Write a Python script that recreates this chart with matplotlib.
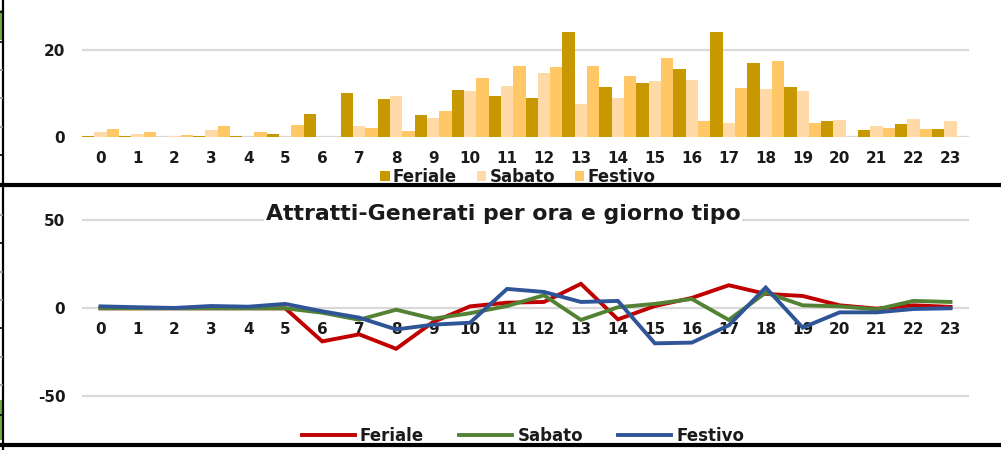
import matplotlib
matplotlib.use("Agg")
import matplotlib.pyplot as plt
from matplotlib.lines import Line2D
from matplotlib.patches import Patch, Rectangle

# Hours of the day
hours = list(range(24))
hour_labels = [str(h) for h in hours]

# Hourly trips by day type (bar chart)
feriale_bar = [0.3, 0.15, 0.0, 0.3, 0.3, 0.7, 5.2, 10.2, 8.7, 5.0, 10.7, 9.5,
               8.9, 24.0, 11.5, 12.5, 15.5, 24.0, 16.9, 11.5, 3.7, 1.6, 3.0, 1.9]
sabato_bar = [1.2, 0.8, 0.3, 1.7, 0.0, 0.0, 0.0, 2.6, 9.5, 4.4, 10.5, 11.6,
              14.7, 7.6, 9.0, 12.9, 13.1, 3.1, 11.1, 10.6, 4.0, 2.5, 4.2, 3.7]
festivo_bar = [1.9, 1.2, 0.5, 2.6, 1.1, 2.7, 0.0, 2.1, 1.4, 6.0, 13.5, 16.3,
               16.1, 16.2, 13.9, 18.2, 3.7, 11.3, 17.4, 3.1, 0.0, 2.1, 1.9, 0.0]

# Attracted minus generated, by hour and day type (line chart)
feriale_diff = [0.0, 0.0, 0.0, 0.0, 0.0, 0.0, -18.8, -14.8, -23.0, -7.8, 1.1, 3.2,
                3.6, 13.9, -6.3, 1.3, 5.9, 13.1, 8.2, 7.0, 1.7, -0.2, 1.7, 0.8]
sabato_diff = [0.0, 0.0, 0.0, 0.0, 0.0, 0.0, -2.5, -6.5, -0.8, -5.9, -2.8, 1.3,
               7.4, -6.6, 0.6, 2.5, 5.3, -6.6, 8.9, 1.7, 1.1, -0.6, 4.2, 3.6]
festivo_diff = [1.1, 0.6, 0.2, 1.3, 0.9, 2.5, -1.7, -5.3, -12.0, -9.3, -8.2, 11.0,
                9.3, 3.6, 4.2, -19.9, -19.5, -9.7, 11.8, -11.0, -2.3, -2.3, -0.4, 0.0]

series_names = ["Feriale", "Sabato", "Festivo"]
bar_colors = ["#C89800", "#FFDAA6", "#FFC766"]
line_colors = ["#C00000", "#548235", "#2F5597"]

title_text = "Attratti-Generati per ora e giorno tipo"

W, H = 1001, 450
fig = plt.figure(figsize=(W / 100, H / 100), dpi=100)
fig.patch.set_facecolor("white")


def px_axes(x0, y0, x1, y1):
    return fig.add_axes([x0 / W, 1 - y1 / H, (x1 - x0) / W, (y1 - y0) / H])


grid_col = "#D9D9D9"
text_col = "#1a1a1a"
tick_font = dict(family="DejaVu Sans", weight="bold", size=11, color=text_col)
legend_font = dict(family="DejaVu Sans", weight="bold", size=12)

# ---- Top: bar chart ----
ax1 = px_axes(82, 0, 969, 137)
bw = 1 / 3
for i, (vals, col, name) in enumerate(zip([feriale_bar, sabato_bar, festivo_bar],
                                           bar_colors, series_names)):
    ax1.bar([h + (i - 1) * bw for h in hours], vals, width=bw, color=col,
            label=name, zorder=3)
ax1.set_xlim(-0.5, 23.5)
ax1.set_ylim(0, 137 / 4.36)
ax1.set_yticks([0, 20])
ax1.set_yticklabels(["0", "20"], **tick_font)
ax1.set_xticks(hours)
ax1.set_xticklabels(hour_labels, **tick_font)
ax1.tick_params(axis="both", length=0)
ax1.tick_params(axis="x", pad=10)
ax1.tick_params(axis="y", pad=12)
ax1.yaxis.grid(True, color=grid_col, lw=1.6, zorder=0)
ax1.set_axisbelow(True)
for s in ax1.spines.values():
    s.set_visible(False)

handles1 = [Patch(facecolor=c, label=n) for c, n in zip(bar_colors, series_names)]
leg1 = fig.legend(handles=handles1, loc="center",
                  bbox_to_anchor=(518 / W, 1 - 177 / H),
                  ncol=3, frameon=False, handlelength=0.55, handleheight=0.55,
                  handletextpad=0.2, columnspacing=1.2, prop=legend_font)
for t in leg1.get_texts():
    t.set_color(text_col)

# ---- Bottom: line chart ----
ax2 = px_axes(82, 190, 969, 420)
for vals, col, name in zip([feriale_diff, sabato_diff, festivo_diff],
                           line_colors, series_names):
    ax2.plot(hours, vals, color=col, lw=2.8, label=name, zorder=3,
             solid_joinstyle="miter")
ax2.spines["bottom"].set_position(("data", 0))
ax2.set_xlim(-0.5, 23.5)
ax2.set_ylim(-(420 - 308.3) / 1.76, (308.3 - 190) / 1.76)
ax2.set_yticks([-50, 0, 50])
ax2.set_yticklabels(["-50", "0", "50"], **tick_font)
ax2.set_xticks(hours)
ax2.set_xticklabels(hour_labels, **tick_font)
ax2.tick_params(axis="both", length=0)
ax2.tick_params(axis="x", pad=10)
ax2.tick_params(axis="y", pad=12)
ax2.yaxis.grid(True, color=grid_col, lw=1.6, zorder=0)
ax2.set_axisbelow(True)
for s in ax2.spines.values():
    s.set_visible(False)

ax2.text(503 / W, 1 - 214 / H, title_text, transform=fig.transFigure,
         ha="center", va="center", family="DejaVu Sans", weight="bold",
         size=15.8, color=text_col, zorder=10,
         bbox=dict(facecolor="white", edgecolor="none", pad=1))

handles2 = [Line2D([], [], color=c, lw=2.8, label=n)
            for c, n in zip(line_colors, series_names)]
leg2 = fig.legend(handles=handles2, loc="center",
                  bbox_to_anchor=(523 / W, 1 - 436 / H),
                  ncol=3, frameon=False, handlelength=3.2, handletextpad=0.3,
                  columnspacing=2.1, prop=legend_font)
for t in leg2.get_texts():
    t.set_color(text_col)

# ---- Frame lines around the two charts ----
def hline(y, lw=3, color="black"):
    fig.add_artist(Line2D([0, 1], [1 - y / H, 1 - y / H], color=color, lw=lw,
                          transform=fig.transFigure, solid_capstyle="butt"))


hline(185)
hline(444.5)
fig.add_artist(Line2D([2.8 / W, 2.8 / W], [0, 1], color="black", lw=1.6,
                      transform=fig.transFigure))
for y0, y1 in [(10, 40), (400, 440)]:
    fig.add_artist(Rectangle((0, 1 - y1 / H), 2 / W, (y1 - y0) / H,
                             transform=fig.transFigure, color="#70AD47", lw=0))
for yk in [12, 42, 155, 243, 328, 415]:
    fig.add_artist(Line2D([0, 2 / W], [1 - yk / H] * 2, color="black", lw=1.2,
                          transform=fig.transFigure))
for yk in [70, 98, 127, 215, 272, 300, 357, 385]:
    fig.add_artist(Line2D([0, 2 / W], [1 - yk / H] * 2, color="#999999", lw=1.2,
                          transform=fig.transFigure))

fig.savefig("out.png", dpi=100, facecolor="white")
